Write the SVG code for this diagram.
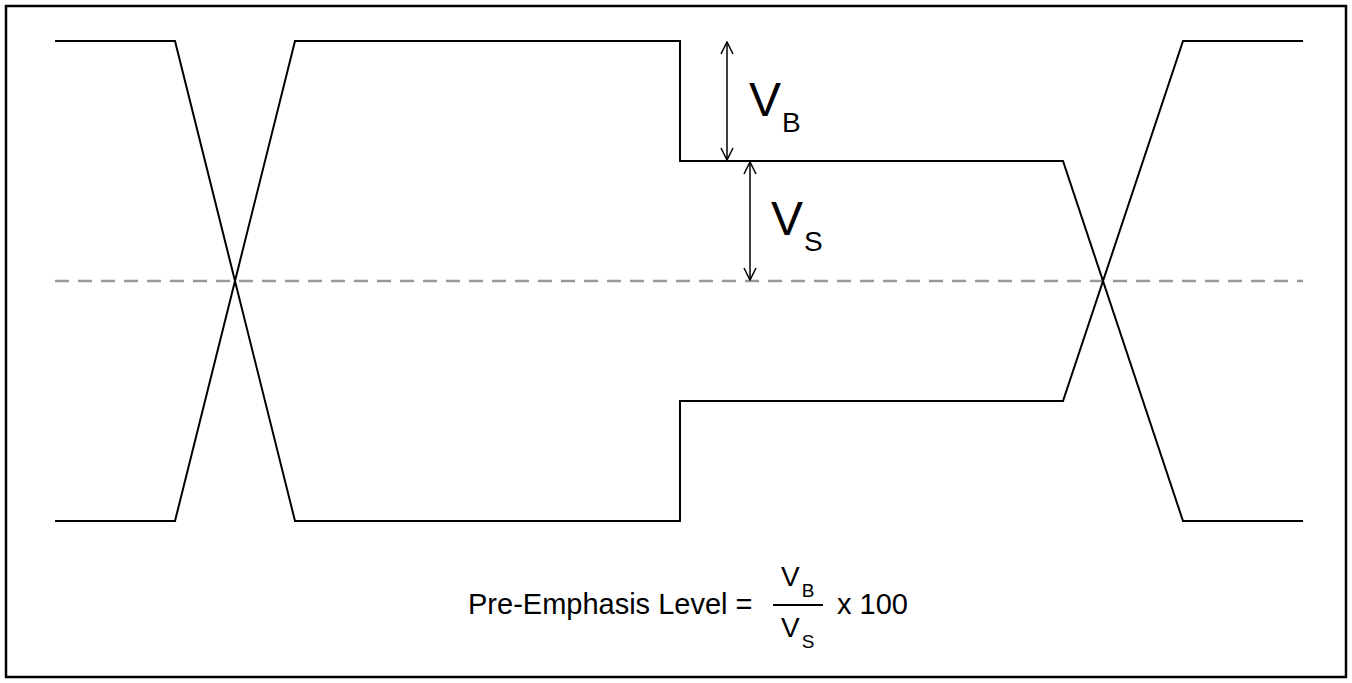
<svg xmlns="http://www.w3.org/2000/svg" width="1352" height="683" viewBox="0 0 1352 683">
<defs>
<style>
.wave{fill:none;stroke:#000;stroke-width:2;stroke-linejoin:miter}
.dash{fill:none;stroke:#999;stroke-width:2.5;stroke-dasharray:14 9}
.arr{fill:none;stroke:#000;stroke-width:1.5}
.t{font-family:"Liberation Sans",Arial,sans-serif;fill:#000}
</style>
<marker id="ah" viewBox="0 0 14 14" refX="13" refY="7" markerWidth="14" markerHeight="14" markerUnits="userSpaceOnUse" orient="auto-start-reverse">
<path d="M1,1 L13,7 L1,13" fill="none" stroke="#000" stroke-width="1.5"/>
</marker>
</defs>
<rect x="0" y="0" width="1352" height="683" fill="#fff"/>
<rect x="6" y="6" width="1340" height="671" fill="none" stroke="#000" stroke-width="2.5"/>
<g id="connectors">
<line class="dash" x1="55" y1="281" x2="1303" y2="281"/>
<polyline id="upper" class="wave" points="55,41 175,41 295,521 680,521 680,401 1063,401 1183,41 1303,41"/>
<polyline id="lower" class="wave" points="55,521 175,521 295,41 680,41 680,161 1063,161 1183,521 1303,521"/>
<line class="arr" x1="727" y1="42" x2="727" y2="160" marker-start="url(#ah)" marker-end="url(#ah)"/>
<line class="arr" x1="750" y1="162" x2="750" y2="280" marker-start="url(#ah)" marker-end="url(#ah)"/>
</g>
<g id="label-vb">
<text class="t" x="749" y="116" font-size="48">V<tspan font-size="28" dx="1" dy="16">B</tspan></text>
</g>
<g id="label-vs">
<text class="t" x="771" y="235" font-size="48">V<tspan font-size="28" dx="1" dy="16">S</tspan></text>
</g>
<g id="formula">
<text class="t" x="468" y="614" font-size="29">Pre-Emphasis Level =</text>
<text class="t" x="781" y="586" font-size="28">V<tspan font-size="19" dx="2" dy="11">B</tspan></text>
<line x1="773" y1="605" x2="823" y2="605" stroke="#000" stroke-width="2"/>
<text class="t" x="781" y="637" font-size="28">V<tspan font-size="19" dx="2" dy="11">S</tspan></text>
<text class="t" x="837" y="614" font-size="29">x 100</text>
</g>
</svg>
